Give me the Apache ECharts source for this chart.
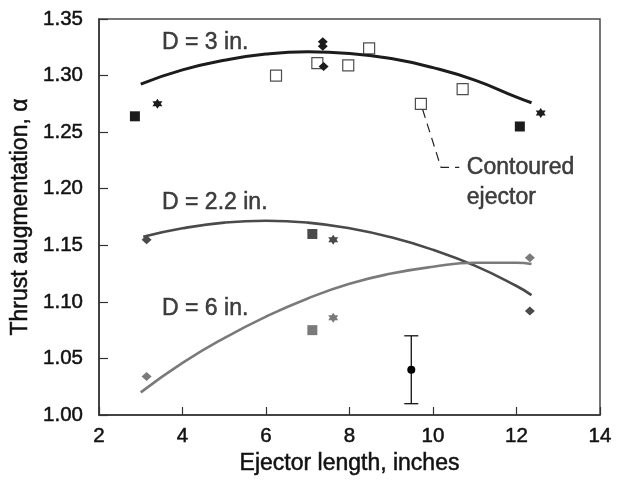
<!DOCTYPE html>
<html>
<head>
<meta charset="utf-8">
<script src="https://cdn.jsdelivr.net/npm/echarts@6/dist/echarts.min.js"></script>
<style>html,body{margin:0;padding:0;background:#fff}#c{width:622px;height:483px}</style>
</head>
<body>
<div id="c"></div>
<script>
// ---- data ----
var xTicks = [2, 4, 6, 8, 10, 12, 14];
var yTicks = [1.00, 1.05, 1.10, 1.15, 1.20, 1.25, 1.30, 1.35];

// D = 3 in.
var d3Curve = [[3.0,1.2925],[4,1.305],[5,1.3135],[6,1.319],[7,1.321],[8,1.3196],[9,1.315],[10,1.307],[11,1.296],[12,1.281],[12.36,1.276]];
var d3Squares = [[2.86,1.264],[12.08,1.255]];
var d3Stars = [[3.40,1.275],[12.58,1.267]];
var d3Diamonds = [[7.36,1.330],[7.36,1.326],[7.38,1.308]];
var contoured = [[6.24,1.300],[7.23,1.311],[7.97,1.309],[8.47,1.324],[9.71,1.275],[10.71,1.288]];

// D = 2.2 in.
var d22Curve = [[3.06,1.1575],[4,1.165],[5,1.170],[6,1.1717],[7,1.170],[8,1.165],[9,1.157],[10,1.146],[11,1.132],[12,1.114],[12.36,1.106]];
var d22Diamonds = [[3.14,1.155],[12.32,1.092]];
var d22Squares = [[7.11,1.160]];
var d22Stars = [[7.61,1.155]];

// D = 6 in.
var d6Curve = [[3.0,1.020],[4,1.046],[5,1.068],[6,1.087],[7,1.103],[8,1.116],[9,1.125],[10,1.131],[11,1.1345],[12,1.1345],[12.36,1.1334]];
var d6Diamonds = [[3.14,1.034],[12.32,1.139]];
var d6Squares = [[7.11,1.075]];
var d6Stars = [[7.61,1.086]];

// error bar
var errX = [9.48];
var errMean = [1.040];
var errLow = [1.010];
var errHigh = [1.070];

// leader line for "Contoured ejector"
var leader = [[9.75,1.2702],[10.19,1.2189],[10.63,1.2189]];

// text annotations [x, y, text]
var labels = [
  [3.51, 1.3288, 'D = 3 in.'],
  [3.51, 1.1873, 'D = 2.2 in.'],
  [3.51, 1.0944, 'D = 6 in.'],
  [10.81, 1.2055, 'Contoured\nejector']
];

// ---- chart ----
var C3 = '#1c1c1c', C22 = '#4a4a4a', C6 = '#7a7a7a';
var FONT = 'Liberation Sans';
var TXT = 23, TICK = 20.5, TCOL = '#111';
var STAR = 'path://M0,-10 L2.887,-5 L8.66,-5 L5.774,0 L8.66,5 L2.887,5 L0,10 L-2.887,5 L-8.66,5 L-5.774,0 L-8.66,-5 L-2.887,-5 Z';

function curve(data, color, w) {
  return {type:'line', data:data, smooth:true, symbol:'none', silent:true, z:2,
    lineStyle:{color:color, width:w}};
}
function pts(data, symbol, size, color, extra) {
  var s = {type:'scatter', data:data, symbol:symbol, symbolSize:size, z:3, silent:true,
    itemStyle:{color:color, opacity:1}};
  if (extra) for (var k in extra) s[k] = extra[k];
  return s;
}

var chart = echarts.init(document.getElementById('c'), null, {renderer:'canvas'});
chart.setOption({
  animation:false,
  backgroundColor:'#fff',
  textStyle:{fontFamily:FONT},
  grid:{left:99, right:22, top:19, bottom:68, show:true, borderColor:'#4a4a4a', borderWidth:1.5, backgroundColor:'transparent'},
  xAxis:{type:'value', min:2, max:14, interval:2,
    name:'Ejector length, inches', nameLocation:'middle', nameGap:37,
    nameTextStyle:{fontSize:TXT, color:TCOL, fontFamily:FONT, textBorderColor:TCOL, textBorderWidth:0.5},
    axisLine:{show:true, lineStyle:{color:'#333', width:1.5}},
    axisTick:{show:true, inside:true, length:8, lineStyle:{color:'#333', width:1.2}},
    axisLabel:{fontSize:TICK, color:TCOL, margin:11, fontFamily:FONT, textBorderColor:TCOL, textBorderWidth:0.5,
      formatter:function(v){return xTicks.indexOf(v) >= 0 ? String(v) : '';}},
    splitLine:{show:false}},
  yAxis:{type:'value', min:1.00, max:1.35, interval:0.05,
    name:'Thrust augmentation, \u03b1', nameLocation:'middle', nameGap:65, nameRotate:90,
    nameTextStyle:{fontSize:TXT, color:TCOL, fontFamily:FONT, textBorderColor:TCOL, textBorderWidth:0.5},
    axisLine:{show:true, lineStyle:{color:'#333', width:1.5}},
    axisTick:{show:true, inside:true, length:9, lineStyle:{color:'#333', width:1.2}},
    axisLabel:{fontSize:TICK, color:TCOL, margin:16, fontFamily:FONT, textBorderColor:TCOL, textBorderWidth:0.5,
      formatter:function(v){
        for (var i=0;i<yTicks.length;i++) if (Math.abs(yTicks[i]-v)<1e-6) return yTicks[i].toFixed(2);
        return '';
      }},
    splitLine:{show:false}},
  series:[
    curve(d3Curve, C3, 3),
    curve(d22Curve, C22, 2.6),
    curve(d6Curve, C6, 2.6),
    {type:'line', data:leader, symbol:'none', silent:true, z:2,
      lineStyle:{color:'#222', width:1.2, type:[9,6]}},
    pts(contoured, 'rect', 11, '#fff', {itemStyle:{color:'#fff', borderColor:'#222', borderWidth:1.2}}),
    pts(d3Squares, 'rect', 10, C3),
    pts(d3Stars, STAR, 10, C3),
    pts(d3Diamonds, 'diamond', [10,9], C3),
    pts(d22Diamonds, 'diamond', [10,9], C22),
    pts(d22Squares, 'rect', 10, C22),
    pts(d22Stars, STAR, 10, C22),
    pts(d6Diamonds, 'diamond', [10,9], C6),
    pts(d6Squares, 'rect', 10, C6),
    pts(d6Stars, STAR, 10, C6),
    {type:'custom', silent:true, z:3,
      data: errX.map(function(x,i){return [x, errLow[i], errHigh[i]];}),
      renderItem:function(params, api){
        var lo = api.coord([api.value(0), api.value(1)]);
        var hi = api.coord([api.value(0), api.value(2)]);
        var cap = 7;
        return {type:'group', children:[
          {type:'line', shape:{x1:lo[0], y1:lo[1], x2:hi[0], y2:hi[1]}, style:{stroke:'#111', lineWidth:1.3}},
          {type:'line', shape:{x1:lo[0]-cap, y1:lo[1], x2:lo[0]+cap, y2:lo[1]}, style:{stroke:'#111', lineWidth:1.3}},
          {type:'line', shape:{x1:hi[0]-cap, y1:hi[1], x2:hi[0]+cap, y2:hi[1]}, style:{stroke:'#111', lineWidth:1.3}}
        ]};
      }},
    pts(errX.map(function(x,i){return [x, errMean[i]];}), 'circle', 8, '#000'),
    {type:'scatter', silent:true, z:4, symbolSize:0,
      data: labels.map(function(l){return {value:[l[0], l[1]], name:l[2]};}),
      label:{show:true, position:'right', distance:0, align:'left', verticalAlign:'middle',
        fontSize:TXT, color:TCOL, fontFamily:FONT, lineHeight:30, textBorderColor:TCOL, textBorderWidth:0.5,
        formatter:function(p){return p.name;}}}
  ]
});
</script>
</body>
</html>
